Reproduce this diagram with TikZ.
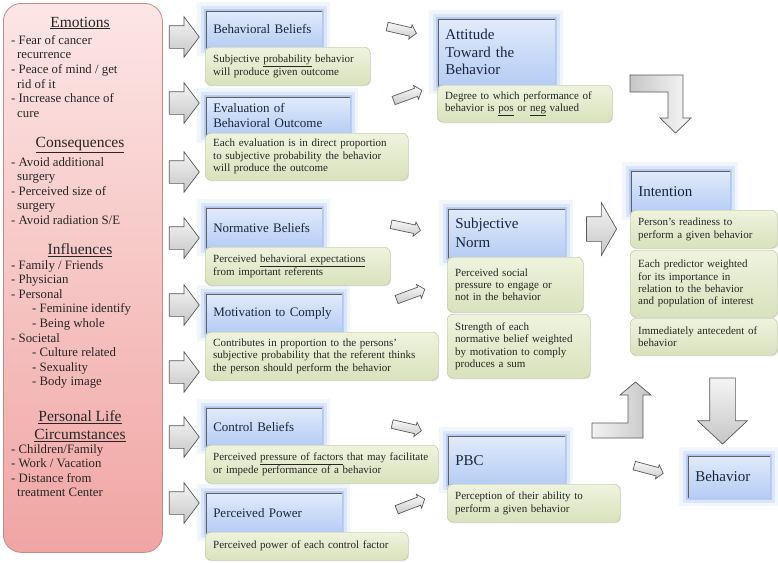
\documentclass[tikz,border=0pt]{standalone}
\usepackage{fontspec}
\setmainfont{Liberation Serif}
\usetikzlibrary{shapes.arrows,shadows}
\definecolor{panelTop}{HTML}{FCE6E5}
\definecolor{panelBot}{HTML}{F0A5A3}
\definecolor{panelEdge}{HTML}{C38A87}
\definecolor{blueTop}{HTML}{E2EBFB}
\definecolor{blueBot}{HTML}{B4CCF4}
\definecolor{blueGlow}{HTML}{8EB0EE}
\definecolor{greenTop}{HTML}{EFF3DE}
\definecolor{greenBot}{HTML}{D8E2BC}
\definecolor{greenEdge}{HTML}{B3BF90}
\definecolor{inkNavy}{HTML}{1C2540}
\definecolor{ink}{HTML}{262626}
\begin{document}
\begin{tikzpicture}[x=1pt,y=-1pt,
  title box/.style={anchor=north west,align=left,inner xsep=8pt,inner ysep=2pt,
    top color=blueTop,bottom color=blueBot,draw=blueGlow!70,line width=.5pt,
    text=inkNavy,font=\fontsize{13}{15}\selectfont,
    preaction={draw=blueGlow,line width=16pt,opacity=.12},
    preaction={draw=blueGlow,line width=9pt,opacity=.22},
    preaction={draw=blueGlow,line width=3pt,opacity=.45},
    path picture={\draw[gray!75!black,line width=4pt]
      (path picture bounding box.south west) -- (path picture bounding box.north west)
      -- (path picture bounding box.north east);}},
  big title/.style={title box,font=\fontsize{15}{17.5}\selectfont},
  note box/.style={anchor=north west,align=left,inner xsep=8pt,inner ysep=2pt,
    rounded corners=6pt,draw=greenEdge,top color=greenTop,bottom color=greenBot,
    text=ink,font=\fontsize{11}{12.4}\selectfont,
    drop shadow={shadow xshift=.8pt,shadow yshift=-1.2pt,opacity=.18}},
  fat arrow/.style={single arrow,draw=black!65,line width=.7pt,top color=gray!8,bottom color=gray!45,
    inner xsep=0pt,inner ysep=11pt,single arrow head extend=9pt,single arrow tip angle=106,
    minimum height=30pt,minimum width=40pt},
  thin arrow/.style={single arrow,draw=black!65,line width=.7pt,top color=gray!5,bottom color=gray!40,
    inner xsep=0pt,inner ysep=4pt,single arrow head extend=3pt,single arrow tip angle=100,
    minimum height=30pt,minimum width=14pt},
  head/.style={font=\fontsize{15.5}{18}\selectfont,text=ink},
  items/.style={anchor=north west,align=left,inner sep=0pt,font=\fontsize{12.8}{14.6}\selectfont,text=ink}]
\useasboundingbox (0,0) rectangle (778,562);

\node[anchor=north west,rounded corners=18pt,draw=panelEdge,line width=.8pt,
  top color=panelTop,bottom color=panelBot,minimum width=159pt,minimum height=549pt] (panel) at (3,3) {};
\node[head] (emo) at (80,23) {\underline{Emotions}};
\node[items] (emoItems) at (11,35) {- Fear of cancer\\\hspace*{6pt}recurrence\\- Peace of mind / get\\\hspace*{6pt}rid of it\\- Increase chance of\\\hspace*{6pt}cure};
\node[head] (cons) at (80,145) {\underline{Consequences}};
\node[items] (consItems) at (11,157) {- Avoid additional\\\hspace*{6pt}surgery\\- Perceived size of\\\hspace*{6pt}surgery\\- Avoid radiation S/E};
\node[head] (infl) at (80,250) {\underline{Influences}};
\node[items] (inflItems) at (11,260) {- Family / Friends\\- Physician\\- Personal\\\hspace*{21pt}- Feminine identify\\\hspace*{21pt}- Being whole\\- Societal\\\hspace*{21pt}- Culture related\\\hspace*{21pt}- Sexuality\\\hspace*{21pt}- Body image};
\node[head,align=center] (plc) at (80,426) {\underline{Personal Life}\\\underline{Circumstances}};
\node[items] (plcItems) at (11,444) {- Children/Family\\- Work / Vacation\\- Distance from\\\hspace*{6pt}treatment Center};

\foreach \y/\n in {37/1,103/2,172/3,238/4,305/5,372/6,437/7,503/8}
  \node[fat arrow] (la\n) at (180,\y) {};

\node[title box,text width=101pt,minimum height=38pt] (bb) at (205,10) {Behavioral Beliefs};
\node[title box,text width=129pt,minimum height=39pt] (ebo) at (205,96) {Evaluation of\\Behavioral Outcome};
\node[title box,text width=101pt,minimum height=41pt] (nb) at (205,207) {Normative Beliefs};
\node[title box,text width=121pt,minimum height=40pt] (mc) at (205,293) {Motivation to Comply};
\node[title box,text width=101pt,minimum height=39pt] (cb) at (205,407) {Control Beliefs};
\node[title box,text width=121pt,minimum height=41pt] (pp) at (205,492) {Perceived Power};
\node[big title,text width=102pt,minimum height=68pt] (att) at (437,18) {Attitude\\Toward the\\Behavior};
\node[big title,text width=102pt,minimum height=50pt,font=\fontsize{15}{19}\selectfont] (sn) at (447,208) {Subjective\\Norm};
\node[big title,text width=102pt,minimum height=50pt] (pbc) at (447,435) {PBC};
\node[big title,text width=84pt,minimum height=42pt] (int) at (630,170) {Intention};
\node[big title,text width=67pt,minimum height=43pt] (beh) at (687,455) {Behavior};

\node[note box,text width=149pt,minimum height=38pt] (bbNote) at (205,47) {Subjective \underline{probability} behavior\\will produce given outcome};
\node[note box,text width=187pt,minimum height=47pt] (eboNote) at (205,133) {Each evaluation is in direct proportion\\to subjective probability the behavior\\will produce the outcome};
\node[note box,text width=169pt,minimum height=38pt] (nbNote) at (205,247) {Perceived \underline{behavioral expectations}\\from important referents};
\node[note box,text width=217pt,minimum height=48pt] (mcNote) at (205,332) {Contributes in proportion to the persons'\\subjective probability that the referent thinks\\the person should perform the behavior};
\node[note box,text width=217pt,minimum height=38pt] (cbNote) at (205,445) {Perceived \underline{pressure of factors} that may facilitate\\or impede performance of a behavior};
\node[note box,text width=187pt,minimum height=28pt] (ppNote) at (205,532) {Perceived power of each control factor};
\node[note box,text width=159pt,minimum height=37pt] (attNote) at (437,85) {Degree to which performance of\\behavior is \underline{pos} or \underline{neg} valued};
\node[note box,text width=120pt,minimum height=55pt] (snNote) at (447,257) {Perceived social\\pressure to engage or\\not in the behavior};
\node[note box,text width=127pt,minimum height=64pt] (snSum) at (447,314) {Strength of each\\normative belief weighted\\by motivation to comply\\produces a sum};
\node[note box,text width=157pt,minimum height=38pt] (pbcNote) at (447,484) {Perception of their ability to\\perform a given behavior};
\node[note box,text width=131pt,minimum height=38pt] (intNote) at (630,210) {Person's readiness to\\perform a given behavior};
\node[note box,text width=131pt,minimum height=67pt] (intWeight) at (630,250) {Each predictor weighted\\for its importance in\\relation to the behavior\\and population of interest};
\node[note box,text width=131pt,minimum height=37pt] (intAnte) at (630,318) {Immediately antecedent of\\behavior};

\node[thin arrow,rotate=-13] (aBB) at (400,29.5) {};
\node[thin arrow,rotate=20] (aEBO) at (406,96) {};
\node[thin arrow,rotate=-12] (aNB) at (404,227) {};
\node[thin arrow,rotate=20] (aMC) at (409,295) {};
\node[thin arrow,rotate=-13] (aCB) at (405,427) {};
\node[thin arrow,rotate=21] (aPP) at (409,505) {};
\node[thin arrow,rotate=-15] (aPBC) at (647,469) {};

\node[fat arrow,inner ysep=12pt,minimum width=52pt,single arrow head extend=14pt,single arrow tip angle=120] (aSN) at (598,229) {};
\node[fat arrow,rotate=-90,inner ysep=12.5pt,minimum height=66pt,minimum width=49pt,single arrow head extend=12pt,
  single arrow tip angle=94] (aInt) at (722.5,405) {};
\draw[draw=black!65,line width=.7pt,left color=gray!45,right color=gray!5]
  (630,75) -- (683,75) -- (683,118) -- (691,118) -- (675.5,133) -- (660,118) -- (668,118)
  -- (668,92) -- (630,92) -- cycle;
\draw[draw=black!65,line width=.7pt,left color=gray!10,right color=gray!45]
  (592,423) -- (628,423) -- (628,395) -- (620,395) -- (635.5,382) -- (651,395) -- (643,395)
  -- (643,438) -- (592,438) -- cycle;
\end{tikzpicture}
\end{document}
